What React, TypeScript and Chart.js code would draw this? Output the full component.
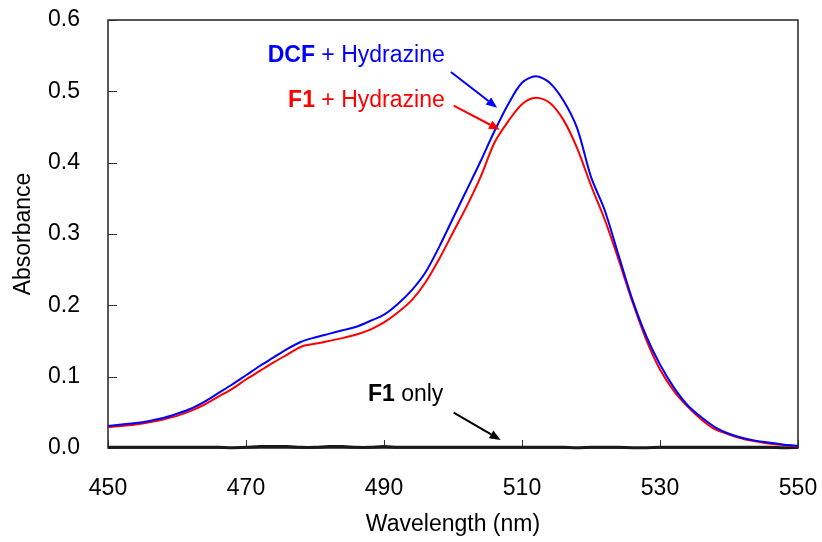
import { useEffect, useRef } from "react";
import { Chart, registerables } from "chart.js";

Chart.register(...registerables);

const wavelengths = [
  450, 452, 454, 456, 458, 460, 462, 464, 466, 468, 470, 472, 474, 476, 478, 480, 482, 484, 486, 488,
  490, 492, 494, 496, 498, 500, 502, 504, 506, 508, 510, 512, 514, 516, 518, 520, 522, 524, 526, 528,
  530, 532, 534, 536, 538, 540, 542, 544, 546, 548, 550,
];

const dcfHydrazine = [
  0.031, 0.033, 0.035, 0.038, 0.042, 0.048, 0.055, 0.065, 0.077, 0.089, 0.102, 0.115, 0.127, 0.139, 0.149, 0.155, 0.16, 0.165, 0.17, 0.178,
  0.187, 0.202, 0.221, 0.246, 0.282, 0.322, 0.362, 0.402, 0.444, 0.482, 0.512, 0.521, 0.512, 0.487, 0.448, 0.38, 0.333, 0.27, 0.208, 0.157,
  0.117, 0.085, 0.06, 0.043, 0.029, 0.02, 0.014, 0.01, 0.0075, 0.0045, 0.003,
];

const f1Hydrazine = [
  0.029, 0.031, 0.033, 0.036, 0.04, 0.045, 0.052, 0.061, 0.072, 0.083, 0.096, 0.108, 0.12, 0.131, 0.142, 0.146, 0.15, 0.154, 0.159, 0.166,
  0.176, 0.19, 0.207, 0.232, 0.265, 0.302, 0.339, 0.38, 0.428, 0.458, 0.482, 0.491, 0.484, 0.46, 0.42, 0.368, 0.32, 0.264, 0.205, 0.152,
  0.11, 0.08, 0.058, 0.04, 0.026, 0.019, 0.013, 0.009, 0.006, 0.004, 0.002,
];

const f1Only = [
  0.001, 0.001, 0.001, 0.001, 0.001, 0.001, 0.001, 0.001, 0.001, 0.0005, 0.001, 0.002, 0.002, 0.002, 0.001, 0.001, 0.002, 0.002, 0.001, 0.001,
  0.002, 0.001, 0.001, 0.001, 0.001, 0.001, 0.001, 0.001, 0.001, 0.001, 0.001, 0.001, 0.001, 0.001, 0.0005, 0.001, 0.001, 0.001, 0.0005, 0.0005,
  0.001, 0.001, 0.001, 0.001, 0.001, 0.001, 0.001, 0.001, 0.001, 0.0005, 0.001,
];

const xTicks = [450, 470, 490, 510, 530, 550];
const yTicks = [0, 0.1, 0.2, 0.3, 0.4, 0.5, 0.6];

const FONT = "'Liberation Sans', Arial, sans-serif";

const annotations = [
  { bold: "DCF", rest: " + Hydrazine", color: "#0000ff", x: 498.8, y: 0.541, from: [499.7, 0.527], to: [506.4, 0.477] },
  { bold: "F1", rest: " + Hydrazine", color: "#ff0000", x: 498.8, y: 0.4775, from: [500.1, 0.48], to: [506.8, 0.446] },
  { bold: "F1", rest: " only", color: "#000000", x: 498.6, y: 0.0664, from: [500.1, 0.0496], to: [506.9, 0.0112] },
];

const framePlugin = {
  id: "frameTicks",
  beforeDatasetsDraw(chart: any) {
    const { ctx, chartArea: a, scales } = chart;
    ctx.save();
    ctx.strokeStyle = "#000";
    ctx.lineWidth = 1.3;
    ctx.strokeRect(a.left, a.top, a.right - a.left, a.bottom - a.top);
    ctx.lineWidth = 1;
    ctx.strokeStyle = "#333";
    ctx.beginPath();
    for (const t of yTicks) {
      const y = Math.round(scales.y.getPixelForValue(t)) + 0.5;
      ctx.moveTo(a.left, y);
      ctx.lineTo(a.left + 9, y);
    }
    for (const t of xTicks) {
      const x = Math.round(scales.x.getPixelForValue(t)) + 0.5;
      ctx.moveTo(x, a.bottom);
      ctx.lineTo(x, a.bottom - 8);
    }
    ctx.stroke();
    ctx.restore();
  },
  afterDatasetsDraw(chart: any) {
    const { ctx, scales } = chart;
    ctx.save();
    for (const an of annotations) {
      const px = scales.x.getPixelForValue(an.x);
      const py = scales.y.getPixelForValue(an.y);
      ctx.font = `bold 23px ${FONT}`;
      const wb = ctx.measureText(an.bold).width;
      ctx.font = `23px ${FONT}`;
      const wr = ctx.measureText(an.rest).width;
      const start = px - wb - wr;
      ctx.fillStyle = an.color;
      ctx.textBaseline = "alphabetic";
      ctx.textAlign = "left";
      ctx.font = `bold 23px ${FONT}`;
      ctx.fillText(an.bold, start, py);
      ctx.font = `23px ${FONT}`;
      ctx.fillText(an.rest, start + wb, py);

      const x1 = scales.x.getPixelForValue(an.from[0]);
      const y1 = scales.y.getPixelForValue(an.from[1]);
      const x2 = scales.x.getPixelForValue(an.to[0]);
      const y2 = scales.y.getPixelForValue(an.to[1]);
      const ang = Math.atan2(y2 - y1, x2 - x1);
      const hl = 11;
      const hw = 4.5;
      const bx = x2 - hl * Math.cos(ang);
      const by = y2 - hl * Math.sin(ang);
      ctx.strokeStyle = an.color;
      ctx.lineWidth = 2;
      ctx.beginPath();
      ctx.moveTo(x1, y1);
      ctx.lineTo(bx, by);
      ctx.stroke();
      ctx.beginPath();
      ctx.moveTo(x2, y2);
      ctx.lineTo(bx + hw * Math.sin(ang), by - hw * Math.cos(ang));
      ctx.lineTo(bx - hw * Math.sin(ang), by + hw * Math.cos(ang));
      ctx.closePath();
      ctx.fillStyle = an.color;
      ctx.fill();
    }
    ctx.restore();
  },
};

export default function App() {
  const ref = useRef<HTMLCanvasElement | null>(null);
  useEffect(() => {
    if (!ref.current) return;
    const toPts = (vals: number[]) => wavelengths.map((w, i) => ({ x: w, y: vals[i] }));
    const chart = new Chart(ref.current, {
      type: "line",
      data: {
        datasets: [
          { label: "DCF + Hydrazine", data: toPts(dcfHydrazine), borderColor: "#0000ff", borderWidth: 2, pointRadius: 0, tension: 0.3, fill: false },
          { label: "F1 + Hydrazine", data: toPts(f1Hydrazine), borderColor: "#ff0000", borderWidth: 2, pointRadius: 0, tension: 0.3, fill: false },
          { label: "F1 only", data: toPts(f1Only), borderColor: "#1a1a1a", borderWidth: 3, pointRadius: 0, tension: 0.3, fill: false, clip: false } as any,
        ],
      },
      options: {
        responsive: false,
        animation: false,
        events: [],
        layout: { padding: { top: 20, right: 24, left: 0, bottom: 0 } },
        plugins: { legend: { display: false }, tooltip: { enabled: false } },
        scales: {
          x: {
            type: "linear",
            min: 450,
            max: 550,
            afterBuildTicks: (s: any) => { s.ticks = xTicks.map((v) => ({ value: v })); },
            afterFit: (s: any) => { s.height = 94; s.paddingLeft = 0; s.paddingRight = 0; },
            grid: { display: false },
            border: { display: false },
            ticks: { color: "#000", font: { family: FONT, size: 23 }, padding: 19, maxRotation: 0 },
            title: { display: true, text: "Wavelength (nm)", color: "#000", font: { family: FONT, size: 23 }, padding: { top: 0, bottom: 4 } },
          },
          y: {
            min: 0,
            max: 0.6,
            afterBuildTicks: (s: any) => { s.ticks = yTicks.map((v) => ({ value: v })); },
            afterFit: (s: any) => { s.width = 108; s.paddingTop = 0; s.paddingBottom = 0; },
            grid: { display: false },
            border: { display: false },
            ticks: { color: "#000", font: { family: FONT, size: 23 }, padding: 20, callback: (v: any) => Number(v).toFixed(1) },
            title: { display: true, text: "Absorbance", color: "#000", font: { family: FONT, size: 23 }, padding: { top: 10, bottom: 0 } },
          },
        },
      },
      plugins: [framePlugin],
    });
    return () => chart.destroy();
  }, []);
  return (
    <div style={{ position: "absolute", left: 0, top: 0, width: 822, height: 542, background: "#fff" }}>
      <canvas ref={ref} width={822} height={542} style={{ display: "block" }} />
    </div>
  );
}
